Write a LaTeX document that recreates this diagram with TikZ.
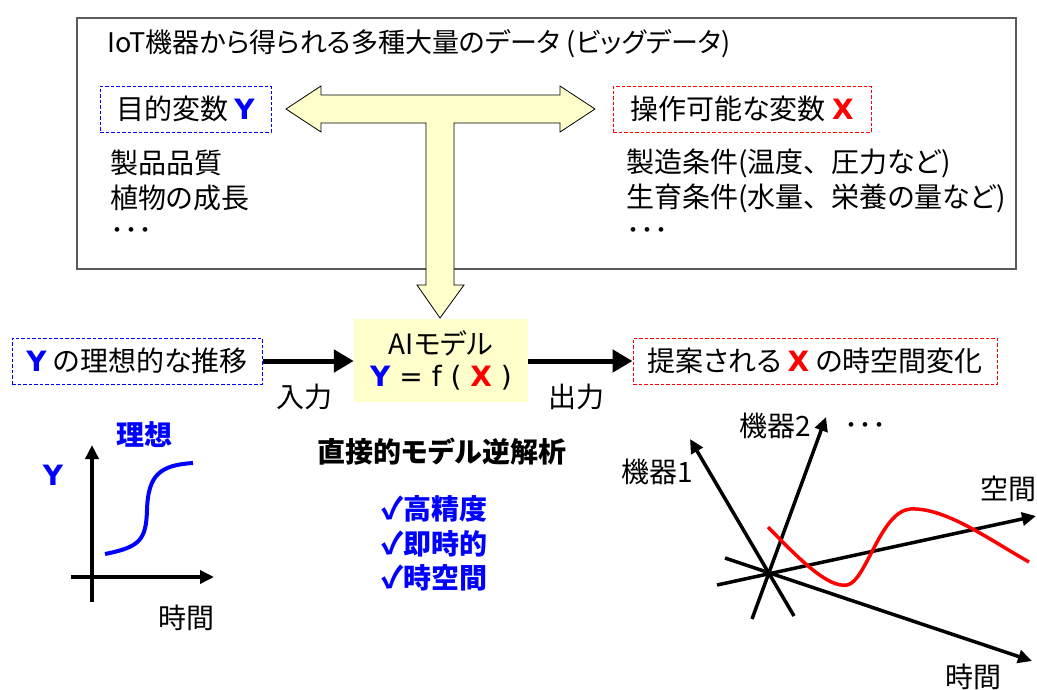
\documentclass[tikz,border=0pt]{standalone}
\usepackage{fontspec}
\setmainfont{Noto Sans CJK JP}[RawFeature={+palt}]
\newfontfamily\cjkfull{Noto Sans CJK JP}
\newfontfamily\vfont{DejaVu Sans}
\usetikzlibrary{arrows.meta}
\definecolor{myblue}{RGB}{0,0,255}
\definecolor{myred}{RGB}{255,0,0}
\definecolor{paleyellow}{RGB}{255,255,204}
\definecolor{boxgray}{RGB}{90,90,90}
\newcommand\Ybl{{\vfont\bfseries\color{myblue}Y}}
\newcommand\Xrd{{\vfont\bfseries\color{myred}X}}
\newcommand\chk{{\fontsize{30}{34}\selectfont ✓}}
\begin{document}
\begin{tikzpicture}[x=1pt,y=-1pt,
  every node/.style={font=\fontsize{28}{34}\selectfont, inner sep=0pt},
  dbox/.style={draw=#1, dash pattern=on 3.5pt off 2pt, line width=1pt, inner sep=0pt},
  lbl/.style={anchor=west},
  bigarrow/.style={line width=5pt, -{Triangle[length=20pt,width=22pt]}},
  axis/.style={line width=3.5pt, -{Triangle[length=14pt,width=13pt]}},
  chkline/.style={font=\fontsize{28}{34}\selectfont\bfseries, text=myblue, anchor=west}
]
\useasboundingbox (0,0) rectangle (1037,689);

% top box
\node[draw=boxgray, line width=1.2pt, minimum width=939pt, minimum height=251pt] (top) at (546.5,143.5) {};
\node[lbl, font=\fontsize{27}{32}\selectfont] (title) at (107,44) {IoT機器から得られる多種大量のデータ (ビッグデータ)};

\node[dbox=myblue, minimum width=171pt, minimum height=46pt] (yobj) at (185.5,109) {目的変数 \Ybl};
\node[dbox=myred, minimum width=258pt, minimum height=46pt] (xop) at (742,109) {操作可能な変数 \Xrd};

\node[lbl] (l1) at (110,163) {製品品質};
\node[lbl] (l2) at (110,198) {植物の成長};
\node[lbl] (l3) at (110,234) {･･･};
\node[lbl] (r1) at (626,163) {製造条件(温度{\cjkfull 、}圧力など)};
\node[lbl] (r2) at (626,198) {生育条件(水量{\cjkfull 、}栄養の量など)};
\node[lbl] (r3) at (626,234) {･･･};

% AI model box
\node[fill=paleyellow, minimum width=174pt, minimum height=83pt, align=center] (ai) at (441,360.5)
  {AIモデル\\[-2pt]{\vfont\Ybl\ = f ( \Xrd\ )}};

% T-shaped block arrow
\draw[fill=paleyellow, draw=black, line width=0.8pt]
  (286,109) -- (321,86) -- (321,95) -- (560,95) -- (560,86) -- (595,109)
  -- (560,132) -- (560,123) -- (454,123) -- (454,285) -- (464,285)
  -- (440,318) -- (417,285) -- (426,285) -- (426,123) -- (321,123)
  -- (321,132) -- cycle;

% lower row
\node[dbox=myblue, minimum width=250pt, minimum height=46pt] (ydes) at (137,361) {\Ybl\ の理想的な推移};
\node[dbox=myred, minimum width=364pt, minimum height=46pt] (xout) at (815,361) {提案される \Xrd\ の時空間変化};

\draw[bigarrow] (ydes.east) -- (ai.west |- ydes.east);
\draw[bigarrow] (ai.east |- xout.west) -- (xout.west);
\node (in) at (304,397) {入力};
\node (out) at (576,397) {出力};

% left chart
\coordinate (yb) at (92,602);
\coordinate (yt) at (92,445);
\coordinate (xl) at (71,577);
\coordinate (xr) at (214,577);
\draw[axis] (yb) -- (yt);
\draw[axis] (xl) -- (xr);
\draw[myblue, line width=4pt] (105,554) .. controls (140,547) and (146,540) .. (147,510)
  .. controls (148,475) and (160,465) .. (193,463);
\node[font=\fontsize{28}{34}\selectfont\bfseries, text=myblue] (ideal) at (144,435) {理想};
\node (ylab) at (53,475) {\Ybl};
\node (tlab) at (186,618) {時間};

% middle text
\node[font=\fontsize{28}{34}\selectfont\bfseries] (inv) at (442,452) {直接的モデル逆解析};
\node[chkline] (c1) at (381,509) {\chk 高精度};
\node[chkline] (c2) at (381,544) {\chk 即時的};
\node[chkline] (c3) at (381,578) {\chk 時空間};

% right chart
\coordinate (m1s) at (794,616);
\coordinate (m1e) at (690,439);
\coordinate (m2s) at (752,619);
\coordinate (m2e) at (826,417);
\coordinate (sps) at (717,585);
\coordinate (spe) at (1036,516);
\coordinate (tms) at (725,558);
\coordinate (tme) at (1032,661);
\draw[axis] (m1s) -- (m1e);
\draw[axis] (m2s) -- (m2e);
\draw[axis] (sps) -- (spe);
\draw[axis] (tms) -- (tme);
\draw[myred, line width=3.5pt] (768,527) .. controls (800,560) and (828,588) .. (847,585)
  .. controls (866,582) and (880,512) .. (910,509)
  .. controls (945,507) and (990,540) .. (1029,562);
\node (k1) at (657,472) {機器1};
\node (k2) at (775,426) {機器2};
\node (dots) at (865,429) {･･･};
\node (space) at (1008,489) {空間};
\node (time) at (973,677) {時間};
\end{tikzpicture}
\end{document}
